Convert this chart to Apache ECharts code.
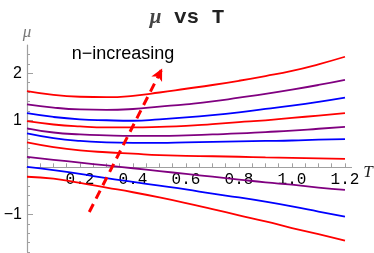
<!DOCTYPE html>
<html>
<head>
<meta charset="utf-8">
<script src="https://cdn.jsdelivr.net/npm/echarts@6/dist/echarts.min.js"></script>
<style>html,body{margin:0;padding:0;background:#fff}#c{width:374px;height:253px}</style>
</head>
<body>
<div id="c"></div>
<script>
// Temperature grid
var tValues = [0, 0.1, 0.2, 0.3, 0.4, 0.5, 0.6, 0.7, 0.8, 0.9, 1.0, 1.1, 1.2];
// mu(T) curves, top to bottom
var mu1  = [1.62, 1.54, 1.50, 1.49, 1.52, 1.59, 1.67, 1.75, 1.84, 1.94, 2.05, 2.19, 2.35];
var mu2  = [1.34, 1.27, 1.23, 1.22, 1.24, 1.29, 1.34, 1.40, 1.48, 1.56, 1.65, 1.75, 1.86];
var mu3  = [1.15, 1.07, 1.02, 1.00, 0.99, 1.02, 1.06, 1.11, 1.17, 1.24, 1.31, 1.39, 1.48];
var mu4  = [0.98, 0.91, 0.87, 0.85, 0.85, 0.86, 0.88, 0.92, 0.96, 1.00, 1.05, 1.10, 1.15];
var mu5  = [0.83, 0.74, 0.70, 0.68, 0.67, 0.67, 0.68, 0.70, 0.72, 0.75, 0.78, 0.82, 0.86];
var mu6  = [0.72, 0.62, 0.56, 0.53, 0.52, 0.52, 0.53, 0.54, 0.55, 0.56, 0.57, 0.59, 0.60];
var mu7  = [0.53, 0.43, 0.36, 0.32, 0.29, 0.26, 0.245, 0.235, 0.225, 0.21, 0.20, 0.19, 0.18];
var mu8  = [0.22, 0.16, 0.10, 0.04, -0.02, -0.08, -0.14, -0.20, -0.26, -0.32, -0.37, -0.43, -0.48];
var mu9  = [0.01, -0.06, -0.14, -0.23, -0.31, -0.39, -0.47, -0.56, -0.64, -0.73, -0.83, -0.94, -1.05];
var mu10 = [-0.20, -0.24, -0.33, -0.43, -0.53, -0.64, -0.76, -0.89, -1.02, -1.15, -1.29, -1.42, -1.56];
var curveColors = ['#ff0000', '#800080', '#0000ff', '#ff0000', '#800080', '#0000ff', '#ff0000', '#800080', '#0000ff', '#ff0000'];
// Arrow "n-increasing" (start / end in data coords)
var arrowStart = [0.235, -0.95];
var arrowEnd = [0.51, 2.1];
var arrowText = 'n\u2212increasing';
var arrowTextAt = [0.362, 2.41];
// Tick labels
var xLabelValues = [0.2, 0.4, 0.6, 0.8, 1.0, 1.2];
var xTickValues = [0.05,0.1,0.15,0.2,0.25,0.3,0.35,0.4,0.45,0.5,0.55,0.6,0.65,0.7,0.75,0.8,0.85,0.9,0.95,1.0,1.05,1.1,1.15,1.2];
var yLabelValues = [-1, 1, 2];
var yMinorTickValues = [-1.8,-1.6,-1.4,-1.2,-1,-0.8,-0.6,-0.4,-0.2,0,0.2,0.4,0.6,0.8,1,1.2,1.4,1.6,1.8,2,2.2,2.4];

var Y_MIN = -1.8, Y_MAX = 2.6, X_MAX = 1.225;
var GRID_TOP = 45, GRID_BOTTOM = 1, GRID_LEFT = 27, GRID_RIGHT = 22.4, H = 253;
// pixel row of mu = 0 inside the main grid
var zeroPx = GRID_TOP + (Y_MAX - 0) / (Y_MAX - Y_MIN) * (H - GRID_TOP - GRID_BOTTOM);

var curves = [mu1, mu2, mu3, mu4, mu5, mu6, mu7, mu8, mu9, mu10];
var series = curves.map(function (arr, i) {
  return {
    type: 'line', smooth: true, showSymbol: false, silent: true,
    xAxisIndex: 0, yAxisIndex: 0,
    data: tValues.map(function (t, j) { return [t, arr[j]]; }),
    lineStyle: { color: curveColors[i], width: 1.8 },
    z: 3
  };
});
series.push({
  type: 'line', data: [], silent: true, xAxisIndex: 0, yAxisIndex: 0,
  markLine: {
    silent: true, animation: false,
    symbol: ['none', 'arrow'], symbolSize: [9, 12],
    label: { show: false },
    lineStyle: { color: '#ff0000', width: 3, type: [9, 6] },
    data: [[{ coord: arrowStart }, { coord: arrowEnd }]]
  },
  markPoint: {
    silent: true, symbol: 'circle', symbolSize: 0,
    label: { show: true, position: 'inside', formatter: arrowText, color: '#000',
             fontFamily: 'Liberation Sans', fontSize: 18 },
    data: [{ coord: arrowTextAt }]
  }
});
// empty series to keep the axis grid alive
series.push({ type: 'line', data: [], silent: true, xAxisIndex: 1, yAxisIndex: 2 });

var chart = echarts.init(document.getElementById('c'), null, { renderer: 'canvas' });
chart.setOption({
  animation: false,
  backgroundColor: '#fff',
  title: {
    text: '{mu|\u03bc}{m| vs T}',
    left: 'center', top: 2,
    textStyle: {
      rich: {
        mu: { fontFamily: 'Liberation Serif', fontStyle: 'italic', fontSize: 21, color: '#444' },
        m: { fontFamily: 'Liberation Mono', fontWeight: 'bold', fontSize: 21, color: '#222' }
      }
    }
  },
  grid: [
    { left: GRID_LEFT, right: GRID_RIGHT, top: GRID_TOP, bottom: GRID_BOTTOM, containLabel: false, outerBoundsMode: 'none' },
    { left: GRID_LEFT, right: GRID_RIGHT, top: GRID_TOP, bottom: H - zeroPx, containLabel: false, outerBoundsMode: 'none' }
  ],
  xAxis: [{
    gridIndex: 0, type: 'value', min: 0, max: X_MAX,
    axisLine: { show: false }, axisTick: { show: false }, axisLabel: { show: false }, splitLine: { show: false }
  }, {
    gridIndex: 1, type: 'value', min: 0, max: X_MAX, position: 'bottom',
    name: '{t|T}', nameLocation: 'end', nameGap: 10,
    nameTextStyle: { verticalAlign: 'middle',
                     rich: { t: { fontFamily: 'Liberation Serif', fontStyle: 'italic', fontSize: 17, color: '#222',
                                  padding: [10, 0, 0, 0] } } },
    axisLine: { show: true, onZero: false, lineStyle: { color: '#a0a0a0', width: 1 } },
    axisTick: { show: true, inside: true, length: 4, customValues: xTickValues, lineStyle: { color: '#a0a0a0' } },
    axisLabel: { customValues: xLabelValues, margin: 4, color: '#000', fontFamily: 'Liberation Mono', fontSize: 16,
                 formatter: function (v) { return v.toFixed(1); } },
    splitLine: { show: false }
  }],
  yAxis: [{
    gridIndex: 0, type: 'value', min: Y_MIN, max: Y_MAX, position: 'left',
    name: '\u03bc', nameLocation: 'end', nameGap: 4,
    nameTextStyle: { fontFamily: 'Liberation Serif', fontStyle: 'italic', fontSize: 17, color: '#777', align: 'center' },
    axisLine: { show: true, onZero: false, lineStyle: { color: '#a0a0a0', width: 1.2 } },
    axisTick: { show: true, inside: true, length: 3, customValues: yMinorTickValues, lineStyle: { color: '#a0a0a0' } },
    axisLabel: { customValues: yLabelValues, margin: 5, color: '#000', fontFamily: 'Liberation Sans', fontSize: 16,
                 formatter: function (v) { return v < 0 ? '\u2212' + Math.abs(v) : String(v); } },
    splitLine: { show: false }
  }, {
    gridIndex: 0, type: 'value', min: Y_MIN, max: Y_MAX, position: 'left', offset: 0,
    axisLine: { show: false, onZero: false },
    axisTick: { show: true, inside: true, length: 6, customValues: yLabelValues, lineStyle: { color: '#a0a0a0' } },
    axisLabel: { show: false },
    splitLine: { show: false }
  }, {
    gridIndex: 1, type: 'value', min: 0, max: Y_MAX, show: false
  }],
  series: series
});
</script>
</body>
</html>
